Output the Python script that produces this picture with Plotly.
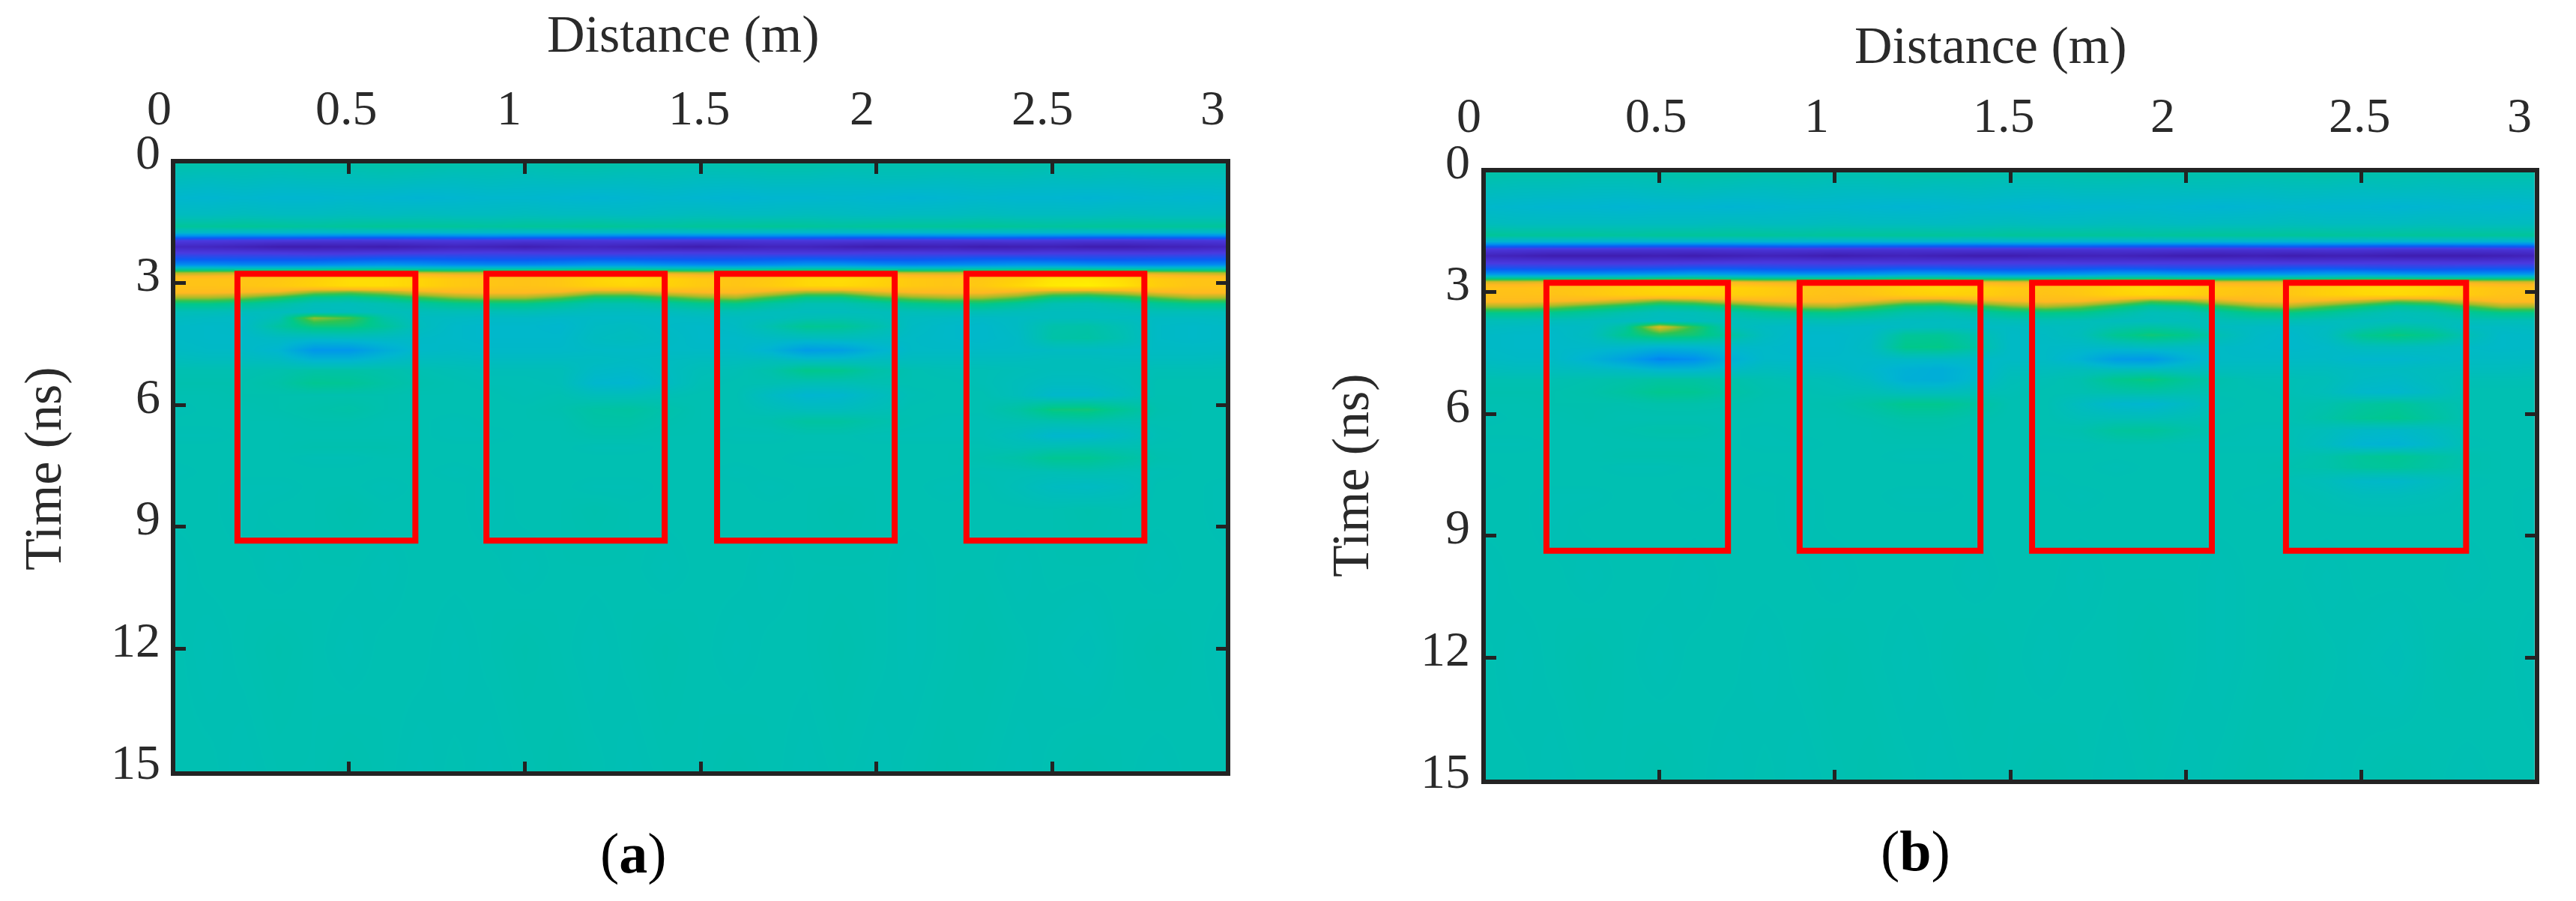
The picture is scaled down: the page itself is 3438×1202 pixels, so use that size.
import plotly.graph_objects as go

W, H = 3438, 1202
distance = [round(i * 0.1, 1) for i in range(31)]
time_ns = [0, 0.4, 0.9, 1.3, 1.6, 1.75, 1.85, 1.95, 2.1, 2.25, 2.4, 2.55, 2.65, 2.75, 2.9, 3.05, 3.2, 3.35, 3.5,
           3.7, 3.85, 4.05, 4.35, 4.65, 4.9, 5.15, 5.45, 5.75, 6.1, 6.4, 6.75, 7.05, 7.3, 7.65, 8.0, 8.6, 10, 12, 15.1]

z_a = [
 [4,4,3,3,4,4,5,5,4,3,3,4,5,4,3,3,4,5,5,4,3,3,4,4,5,4,3,3,4,4,4],
 [-2,-3,-2,-3,-2,-2,-1,-2,-3,-2,-3,-2,-2,-3,-2,-3,-3,-2,-2,-3,-2,-2,-3,-2,-2,-3,-2,-3,-2,-2,-2],
 [-9,-10,-9,-10,-10,-9,-10,-11,-10,-9,-9,-10,-11,-10,-9,-10,-11,-10,-10,-9,-10,-11,-10,-9,-10,-10,-11,-10,-9,-10,-9],
 [-4,-4,-3,-4,-4,-3,-4,-3,-4,-4,-3,-4,-4,-5,-4,-3,-4,-4,-3,-4,-5,-4,-4,-3,-4,-4,-4,-3,-4,-4,-4],
 [8,8,9,8,7,8,9,8,8,7,8,8,9,8,7,8,8,9,8,7,8,8,8,9,8,7,8,8,8,8,8],
 [-7,-7,-8,-7,-8,-7,-8,-8,-7,-7,-8,-8,-7,-7,-8,-7,-7,-8,-8,-7,-7,-8,-7,-8,-7,-7,-8,-7,-7,-8,-7],
 [-40,-41,-42,-42,-43,-44,-44,-43,-42,-41,-42,-42,-43,-44,-44,-43,-42,-42,-43,-44,-44,-43,-42,-41,-42,-43,-44,-44,-43,-42,-41],
 [-70,-71,-72,-73,-74,-75,-74,-73,-72,-73,-74,-75,-74,-73,-73,-74,-75,-74,-73,-73,-74,-75,-75,-74,-73,-74,-75,-76,-75,-74,-73],
 [-88,-90,-94,-100,-100,-98,-100,-96,-92,-94,-98,-93,-90,-94,-98,-100,-96,-92,-92,-96,-100,-98,-96,-100,-98,-96,-100,-100,-96,-94,-90],
 [-70,-71,-71,-72,-74,-74,-72,-71,-70,-69,-70,-72,-73,-72,-70,-70,-71,-73,-73,-72,-70,-71,-72,-73,-74,-72,-71,-72,-73,-72,-70],
 [-52,-53,-54,-54,-54,-52,-50,-50,-52,-54,-54,-52,-50,-51,-53,-54,-53,-51,-50,-52,-54,-54,-52,-50,-50,-52,-54,-54,-52,-52,-52],
 [-32,-32,-34,-34,-33,-30,-28,-30,-33,-34,-34,-32,-28,-28,-31,-33,-34,-32,-28,-28,-32,-34,-33,-31,-28,-28,-31,-33,-34,-33,-32],
 [6,6,5,5,6,8,8,6,5,5,5,6,8,8,6,5,5,6,8,8,6,5,5,6,6,8,8,6,5,5,5],
 [38,40,42,42,44,46,46,44,42,42,42,42,46,46,44,42,42,44,46,46,44,42,42,42,44,46,46,44,42,40,38],
 [62,62,64,66,74,84,84,78,68,64,62,66,78,84,78,68,64,68,80,84,78,68,64,66,74,90,92,84,70,64,62],
 [62,62,64,68,76,84,84,78,68,64,62,66,76,80,76,68,64,70,80,82,76,68,64,68,80,94,98,88,72,64,62],
 [56,56,54,50,36,32,38,48,54,56,56,52,42,42,50,54,56,48,38,38,48,54,56,56,50,40,38,44,52,56,56],
 [36,36,32,22,10,8,14,24,32,36,36,28,16,16,24,32,36,24,12,12,24,32,36,36,28,14,12,18,28,36,36],
 [13,13,10,5,-1,-2,1,6,11,13,13,8,2,2,6,11,13,6,1,1,5,11,14,14,8,1,0,3,9,13,13],
 [-1,-1,-2,-3,-4,-3,-2,-2,-1,-1,0,-2,-4,-4,-3,-1,0,-2,-3,-3,-2,-1,0,0,-2,-3,-3,-2,-1,-1,-1],
 [-4,-5,-6,0,34,26,4,-4,-5,-6,-6,-7,-6,-6,-6,-5,-4,-3,0,1,-1,-4,-5,-6,-5,-3,-3,-4,-5,-5,-4],
 [-6,-7,-6,6,16,16,8,-3,-7,-8,-8,-9,-5,-4,-6,-7,-5,2,10,9,3,-5,-7,-8,-5,3,4,0,-6,-7,-6],
 [-6,-7,-7,-5,-6,-5,-5,-6,-7,-8,-8,-8,-4,-3,-5,-7,-7,-5,-4,-3,-4,-6,-7,-8,-6,4,5,1,-6,-7,-6],
 [-5,-6,-6,-10,-28,-28,-16,-7,-6,-7,-7,-7,-6,-6,-6,-6,-6,-12,-25,-23,-12,-6,-6,-6,-6,-5,-5,-5,-5,-5,-5],
 [-2,-3,-3,-4,-10,-10,-6,-3,-3,-4,-4,-4,-4,-5,-4,-3,-3,-2,-4,-4,-3,-3,-3,-3,-3,-2,-2,-3,-3,-3,-2],
 [1,1,1,2,4,4,3,1,0,-1,-1,-1,-6,-7,-4,-1,0,3,12,11,4,1,0,0,-1,-2,-2,-1,0,0,0],
 [2,2,2,4,10,9,5,2,1,0,0,-1,-9,-10,-5,0,1,1,0,0,1,1,1,0,-2,-4,-4,-2,1,1,1],
 [1,1,2,2,2,2,2,1,1,1,0,1,-2,-2,0,1,1,-5,-10,-9,-4,0,1,1,-2,-8,-8,-4,1,1,1],
 [0,1,1,2,3,4,2,1,1,1,1,2,5,6,3,1,1,-1,-3,-3,-1,1,1,1,5,15,16,9,2,1,1],
 [1,1,1,1,2,2,1,1,0,1,1,1,4,4,2,1,1,2,6,6,3,1,0,0,1,2,3,1,1,1,1],
 [0,0,1,1,1,1,1,1,0,0,1,1,2,2,1,1,0,0,1,1,0,0,0,0,-3,-9,-9,-5,0,1,1],
 [1,1,1,1,2,2,2,1,1,1,1,1,0,0,1,1,1,1,1,1,1,1,1,1,0,1,2,1,1,1,1],
 [1,1,1,1,0,0,1,1,1,1,1,1,1,1,1,1,1,1,0,0,1,1,1,2,4,10,10,6,2,1,1],
 [0,1,1,1,1,1,1,1,0,1,1,1,1,1,1,1,0,1,1,1,1,1,1,0,0,0,1,0,0,1,1],
 [1,1,0,0,1,1,0,1,1,0,1,1,0,0,1,1,1,0,1,1,1,1,0,1,-1,-4,-5,-3,1,1,0],
 [1,1,0,1,1,2,1,1,1,0,1,1,2,1,1,1,1,1,1,2,1,1,1,1,1,1,2,1,1,1,0],
 [0,1,1,0,1,1,0,1,1,1,0,1,1,1,0,1,1,0,1,1,1,0,1,1,0,1,1,1,0,1,1],
 [1,0,1,2,1,0,1,1,0,1,2,1,0,1,2,1,0,1,1,2,1,0,1,2,1,0,-1,1,2,1,0],
 [1,1,0,1,1,2,1,0,1,0,1,2,1,0,1,1,2,1,0,1,0,1,2,1,0,1,2,1,0,1,1],
]

z_b = [
 [5,4,4,3,3,4,5,5,4,4,3,3,4,5,4,3,3,4,5,5,4,3,4,4,5,4,3,3,4,4,4],
 [-1,-2,-2,-3,-3,-2,-1,-2,-3,-2,-3,-3,-2,-3,-2,-3,-3,-2,-2,-3,-2,-2,-3,-2,-2,-3,-2,-3,-2,-2,-2],
 [-8,-9,-10,-10,-11,-10,-10,-11,-10,-9,-9,-10,-11,-10,-9,-10,-11,-10,-10,-9,-10,-11,-10,-9,-10,-10,-11,-10,-9,-10,-9],
 [-3,-4,-4,-4,-4,-4,-4,-3,-4,-4,-3,-4,-4,-5,-4,-3,-4,-4,-3,-4,-5,-4,-4,-3,-4,-4,-4,-3,-4,-4,-4],
 [9,8,8,8,7,8,8,8,8,7,8,8,8,8,7,8,8,8,8,7,8,8,8,8,8,7,8,8,8,8,8],
 [-10,-10,-10,-11,-11,-10,-10,-11,-10,-10,-11,-11,-10,-10,-11,-10,-10,-11,-11,-10,-10,-11,-10,-11,-10,-10,-11,-10,-10,-11,-10],
 [-45,-46,-47,-47,-48,-49,-49,-48,-47,-46,-47,-47,-48,-49,-49,-48,-47,-47,-48,-49,-49,-48,-47,-46,-47,-48,-49,-49,-48,-47,-46],
 [-74,-75,-76,-76,-77,-78,-78,-77,-76,-76,-77,-78,-78,-77,-76,-77,-78,-78,-77,-76,-77,-78,-78,-77,-76,-77,-78,-79,-78,-77,-76],
 [-92,-95,-100,-100,-100,-98,-100,-97,-94,-96,-100,-96,-94,-97,-100,-100,-97,-95,-94,-97,-100,-100,-97,-100,-98,-97,-100,-100,-100,-97,-93],
 [-74,-75,-75,-76,-76,-76,-75,-74,-73,-73,-74,-75,-76,-75,-74,-73,-74,-76,-76,-75,-74,-74,-75,-76,-76,-75,-74,-75,-76,-75,-74],
 [-56,-57,-58,-58,-57,-56,-54,-54,-56,-58,-58,-56,-54,-55,-57,-58,-57,-55,-54,-56,-58,-58,-56,-54,-54,-56,-58,-58,-56,-56,-56],
 [-30,-31,-32,-32,-31,-30,-26,-28,-31,-32,-32,-30,-26,-26,-30,-32,-32,-30,-26,-26,-30,-32,-31,-30,-26,-26,-30,-32,-32,-31,-30],
 [10,10,9,9,10,14,14,10,9,9,9,10,13,13,10,9,9,10,13,13,10,9,9,10,10,13,13,10,9,9,9],
 [44,44,46,46,48,52,54,50,46,46,46,46,50,52,48,46,46,48,50,52,48,46,46,46,48,50,52,48,46,44,44],
 [62,62,64,66,74,80,82,78,72,64,62,66,76,82,78,68,64,68,78,84,78,68,64,66,74,82,84,80,70,64,62],
 [60,60,62,66,72,76,76,74,70,64,60,64,72,76,74,66,62,66,76,80,76,66,62,66,74,80,82,78,70,62,60],
 [56,56,54,50,42,32,36,46,52,56,56,50,40,38,46,52,56,54,44,30,34,46,54,56,50,42,32,36,48,56,56],
 [36,36,32,24,16,8,10,18,28,34,36,26,14,12,20,30,36,30,18,6,10,22,32,36,26,16,6,10,24,36,36],
 [13,13,11,7,2,-2,-1,3,8,12,13,9,3,1,5,11,13,12,5,-1,0,6,13,14,9,3,-1,1,8,13,13],
 [-1,-1,-2,-3,-4,-4,-3,-2,-1,-1,0,-2,-4,-4,-3,-1,0,-1,-3,-3,-2,-1,0,0,-2,-3,-3,-2,-1,-1,-1],
 [-4,-5,-6,-5,6,46,22,-1,-5,-6,-6,-7,-4,-3,-5,-5,-4,-3,2,5,2,-4,-5,-6,-5,0,5,2,-5,-5,-4],
 [-6,-7,-7,-4,10,20,16,6,-4,-8,-8,-6,8,9,2,-6,-5,-2,10,16,12,0,-6,-8,-4,10,15,11,0,-7,-6],
 [-6,-7,-7,-7,-8,-12,-10,-7,-7,-8,-8,-5,12,13,5,-6,-6,-7,-6,-4,-5,-6,-7,-8,-7,-3,-3,-4,-6,-7,-6],
 [-5,-6,-6,-12,-22,-36,-32,-14,-7,-7,-7,-7,-6,-6,-6,-6,-6,-12,-25,-27,-13,-6,-6,-6,-6,-9,-9,-7,-5,-5,-5],
 [-2,-3,-3,-4,-6,-10,-10,-6,-3,-4,-5,-8,-13,-15,-9,-3,-3,-2,-3,-3,-3,-3,-3,-3,-3,-4,-4,-3,-3,-3,-2],
 [1,1,1,2,3,5,5,3,1,0,-1,-5,-14,-15,-8,-1,0,2,11,15,8,2,0,0,-1,-5,-6,-3,0,0,0],
 [2,2,2,3,6,11,10,5,2,1,0,0,-3,-3,-1,0,1,1,3,4,2,1,1,0,-2,-8,-9,-5,1,1,1],
 [1,1,2,2,2,3,3,2,1,1,2,5,11,11,6,1,1,-4,-9,-10,-5,0,1,1,2,6,8,4,1,1,1],
 [0,1,1,2,1,1,1,1,1,1,1,2,4,4,2,1,1,-1,-1,-1,0,1,1,1,4,9,11,6,1,1,1],
 [1,1,1,1,2,3,3,1,0,1,1,1,2,2,1,1,1,2,7,8,4,1,0,0,-2,-6,-7,-4,1,1,1],
 [0,0,1,1,1,1,1,1,0,0,1,1,1,1,1,1,0,0,1,1,0,0,0,0,-4,-11,-12,-7,0,1,1],
 [1,1,1,1,2,2,2,1,1,1,1,1,0,0,1,1,1,1,1,1,1,1,1,1,3,8,10,6,2,1,1],
 [1,1,1,1,0,0,1,1,1,1,1,1,1,1,1,1,1,1,0,1,1,1,1,2,3,7,8,5,2,1,1],
 [0,1,1,1,1,1,1,1,0,1,1,1,1,1,1,1,0,1,1,1,1,1,1,0,-2,-7,-8,-4,0,1,1],
 [1,1,0,0,1,1,0,1,1,0,1,1,0,0,1,1,1,0,1,1,1,1,0,1,0,-2,-2,-1,1,1,0],
 [1,1,0,1,1,1,1,1,1,0,1,1,1,1,1,1,1,1,1,1,1,1,1,1,1,1,1,1,1,1,0],
 [0,1,1,0,1,1,0,1,1,1,0,1,1,1,0,1,1,0,1,1,1,0,1,1,0,1,1,1,0,1,1],
 [1,0,1,2,1,0,1,1,0,1,2,1,0,1,2,1,0,1,1,2,1,0,1,2,1,0,-1,1,2,1,0],
 [1,1,0,1,1,2,1,0,1,0,1,2,1,0,1,1,2,1,0,1,0,1,2,1,0,1,2,1,0,1,1],
]

colorscale = [
    [0.00, "#3f1db0"], [0.15, "#4a3ae0"], [0.25, "#0a5cf5"], [0.35, "#0094ee"],
    [0.45, "#00b6d0"], [0.50, "#00bfb5"], [0.56, "#00c88c"], [0.62, "#30c450"],
    [0.68, "#a8bc28"], [0.76, "#ffb822"], [0.88, "#ffd208"], [1.00, "#fff200"],
]

x_ticks = [0.5, 1, 1.5, 2, 2.5]
y_ticks = [3, 6, 9, 12]
x_labels = ["0", "0.5", "1", "1.5", "2", "2.5", "3"]
y_labels = ["0", "3", "6", "9", "12", "15"]
y_label_vals = [0, 3, 6, 9, 12, 15]
x_title = "Distance (m)"
y_title = "Time (ns)"

boxes_a = [(0.183, 0.689), (0.891, 1.398), (1.547, 2.052), (2.256, 2.762)]
boxes_b = [(0.179, 0.696), (0.900, 1.415), (1.562, 2.074), (2.285, 2.798)]
box_time_a = (2.77, 9.34)
box_time_b = (2.77, 9.37)

panels = [
    dict(name="", z=z_a, boxes=boxes_a, times=box_time_a, px=(231, 1639), py=(215, 1032),
         xlab=[212, 462, 679, 933, 1150, 1391, 1618], xlab_y=143, ylab_x=200,
         xt=(911, 46), yt=(57, 625), cap=(845, 1138), letter="a"),
    dict(name="2", z=z_b, boxes=boxes_b, times=box_time_b, px=(1980, 3386), py=(227, 1043),
         xlab=[1960, 2210, 2424, 2674, 2886, 3149, 3362], xlab_y=153, ylab_x=1948,
         xt=(2656, 61), yt=(1802, 634), cap=(2556, 1135), letter="b"),
]

LW = 5.5
INK = "#232323"
TXT = "#2a2a2a"
fig = go.Figure()
ann, shapes = [], []
layout = {}


def fx(p):
    return p / W


def fy(p):
    return 1 - p / H


for p in panels:
    assert all(len(r) == len(distance) for r in p["z"]) and len(p["z"]) == len(time_ns)
    x0, x1 = p["px"]
    y0, y1 = p["py"]
    sx = (x1 - x0) / 3.0
    sy = 54.2
    fig.add_trace(go.Heatmap(x=distance, y=time_ns, z=p["z"], zmin=-100, zmax=100, zsmooth="best",
                             colorscale=colorscale, showscale=False, hoverinfo="skip",
                             xaxis="x" + p["name"], yaxis="y" + p["name"]))
    axis_common = dict(showgrid=False, zeroline=False, showline=True, linecolor=INK, linewidth=LW,
                       mirror="ticks", ticks="inside", ticklen=14, tickwidth=5, tickcolor=INK,
                       showticklabels=False)
    layout["xaxis" + p["name"]] = dict(
        axis_common, domain=[fx(x0 + LW / 2), fx(x1 - LW / 2)], side="top",
        range=[(LW / 2) / sx, 3 - (LW / 2) / sx], tickmode="array", tickvals=x_ticks,
        anchor="y" + p["name"])
    layout["yaxis" + p["name"]] = dict(
        axis_common, domain=[fy(y1 - LW / 2), fy(y0 + LW / 2)],
        range=[(y1 - LW / 2 - y0) / sy, (LW / 2) / sy], tickmode="array", tickvals=y_ticks,
        anchor="x" + p["name"])
    for t, px in zip(x_labels, p["xlab"]):
        ann.append(dict(text=t, xref="paper", yref="paper", x=fx(px), y=fy(p["xlab_y"]), showarrow=False,
                        xanchor="center", yanchor="middle", font=dict(family="Liberation Serif", size=66, color=TXT)))
    for t, v in zip(y_labels, y_label_vals):
        ann.append(dict(text=t, xref="paper", yref="paper", x=fx(p["ylab_x"] + 16), y=fy(y0 + v * sy - 12),
                        showarrow=False, xanchor="right", yanchor="middle",
                        font=dict(family="Liberation Serif", size=66, color=TXT)))
    ann.append(dict(text=x_title, xref="paper", yref="paper", x=fx(p["xt"][0]), y=fy(p["xt"][1]), showarrow=False,
                    xanchor="center", yanchor="middle", font=dict(family="Liberation Serif", size=70, color=TXT)))
    ann.append(dict(text=y_title, xref="paper", yref="paper", x=fx(p["yt"][0]), y=fy(p["yt"][1]), showarrow=False,
                    xanchor="center", yanchor="middle", textangle=-90,
                    font=dict(family="Liberation Serif", size=70, color=TXT)))
    ann.append(dict(text="(<b>%s</b>)" % p["letter"], xref="paper", yref="paper", x=fx(p["cap"][0]), y=fy(p["cap"][1]),
                    showarrow=False, xanchor="center", yanchor="middle",
                    font=dict(family="Liberation Serif", size=76, color="#000000")))
    for a, b in p["boxes"]:
        shapes.append(dict(type="rect", xref="x" + p["name"], yref="y" + p["name"], x0=a, x1=b,
                           y0=p["times"][0], y1=p["times"][1], line=dict(color="#ff0000", width=8),
                           fillcolor="rgba(0,0,0,0)", layer="above"))

fig.update_layout(width=W, height=H, margin=dict(l=0, r=0, t=0, b=0, pad=0), paper_bgcolor="white",
                  plot_bgcolor="white", showlegend=False, annotations=ann, shapes=shapes, **layout)
fig.write_html("out.html", config={"displayModeBar": False},
               post_script="document.body.style.margin='0';document.documentElement.style.overflow='hidden';")
